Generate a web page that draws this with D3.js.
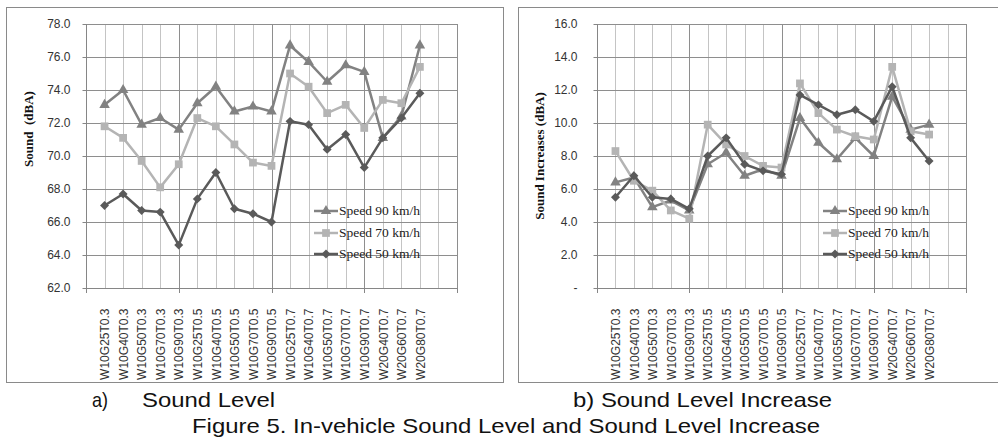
<!DOCTYPE html>
<html>
<head>
<meta charset="utf-8">
<script src="https://cdn.jsdelivr.net/npm/d3@7"></script>
<style>
  body { margin: 0; background: #fff; }
  svg { display: block; }
</style>
</head>
<body>
<div id="chart"></div>
<script>
/* DATA */
const categories = [
  "W10G25T0.3", "W10G40T0.3", "W10G50T0.3", "W10G70T0.3", "W10G90T0.3",
  "W10G25T0.5", "W10G40T0.5", "W10G50T0.5", "W10G70T0.5", "W10G90T0.5",
  "W10G25T0.7", "W10G40T0.7", "W10G50T0.7", "W10G70T0.7", "W10G90T0.7",
  "W20G40T0.7", "W20G60T0.7", "W20G80T0.7"
];
const seriesNames = ["Speed 90 km/h", "Speed 70 km/h", "Speed 50 km/h"];

// a) sound level (dBA)
const level90 = [73.1, 74.0, 71.9, 72.3, 71.6, 73.2, 74.2, 72.7, 73.0, 72.7, 76.7, 75.7, 74.5, 75.5, 75.1, 71.1, 72.4, 76.7];
const level70 = [71.8, 71.1, 69.7, 68.1, 69.5, 72.3, 71.8, 70.7, 69.6, 69.4, 75.0, 74.2, 72.6, 73.1, 71.7, 73.4, 73.2, 75.4];
const level50 = [67.0, 67.7, 66.7, 66.6, 64.6, 67.4, 69.0, 66.8, 66.5, 66.0, 72.1, 71.9, 70.4, 71.3, 69.3, 71.1, 72.3, 73.8];

// b) sound level increase (dBA)
const increase90 = [6.4, 6.7, 4.9, 5.3, 4.7, 7.5, 8.2, 6.8, 7.2, 6.8, 10.3, 8.8, 7.8, 9.1, 8.0, 11.6, 9.6, 9.9];
const increase70 = [8.3, 6.5, 5.9, 4.7, 4.2, 9.9, 8.7, 8.0, 7.4, 7.3, 12.4, 10.6, 9.6, 9.2, 9.0, 13.4, 9.5, 9.3];
const increase50 = [5.5, 6.8, 5.5, 5.4, 4.8, 8.0, 9.1, 7.5, 7.1, 6.9, 11.7, 11.1, 10.5, 10.8, 10.1, 12.2, 9.1, 7.7];

const levelTicks = [62, 64, 66, 68, 70, 72, 74, 76, 78];
const increaseTicks = [0, 2, 4, 6, 8, 10, 12, 14, 16];

/* STYLE */
const width = 998, height = 440;
const colors = ["#828282", "#b4b4b4", "#5a5a5a"];
const shapes = ["triangle", "square", "diamond"];
const sans = "'Liberation Sans', Arial, sans-serif";
const serif = "'Liberation Serif', 'Times New Roman', serif";

const svg = d3.select("#chart").append("svg")
  .attr("width", width)
  .attr("height", height);

svg.append("rect").attr("width", width).attr("height", height).attr("fill", "#fff");

function marker(g, shape, color) {
  if (shape === "triangle") {
    g.append("path").attr("d", d3.symbol(d3.symbolTriangle, 48)()).attr("fill", color);
  } else if (shape === "square") {
    g.append("path").attr("d", d3.symbol(d3.symbolSquare, 60)()).attr("fill", color);
  } else {
    g.append("path").attr("d", d3.symbol(d3.symbolSquare, 40)())
      .attr("transform", "rotate(45)").attr("fill", color);
  }
}

function drawPanel(p) {
  // panel frame
  svg.append("rect")
    .attr("x", p.frame[0] + 0.5).attr("y", p.frame[1] + 0.5)
    .attr("width", p.frame[2]).attr("height", p.frame[3])
    .attr("fill", "none").attr("stroke", "#8a8a8a");

  const x = d3.scaleLinear().domain([0, 20]).range([p.left, p.right]);
  const y = d3.scaleLinear().domain(p.domain).range([p.bottom, p.top]);
  const g = svg.append("g");

  // vertical grid (minor every 1, major every 5)
  g.selectAll(".vgrid")
    .data(d3.range(1, 21))
    .join("line")
    .attr("x1", d => Math.round(x(d)) + 0.5)
    .attr("x2", d => Math.round(x(d)) + 0.5)
    .attr("y1", p.top).attr("y2", p.bottom)
    .attr("stroke", d => d % 5 === 0 ? "#8e8e8e" : "#c4c4c4")
    .attr("stroke-width", 1);

  // horizontal grid
  g.selectAll(".hgrid")
    .data(p.ticks.slice(1))
    .join("line")
    .attr("x1", p.left).attr("x2", p.right)
    .attr("y1", d => Math.round(y(d)) + 0.5)
    .attr("y2", d => Math.round(y(d)) + 0.5)
    .attr("stroke", "#8e8e8e");

  // y axis
  const yAxis = d3.axisLeft(y).tickValues(p.ticks).tickSize(4).tickPadding(p.tickPad)
    .tickFormat(d => d === 0 ? "-" : d.toFixed(1));
  const ya = g.append("g")
    .attr("transform", `translate(${Math.round(p.left) + 0.5},0)`)
    .call(yAxis);
  ya.selectAll("text").attr("font-family", sans).attr("font-size", 12).attr("fill", "#333");
  ya.selectAll("line, path").attr("stroke", "#868686");
  ya.select(".domain").attr("d", `M0,${p.top}V${p.bottom}`);

  // x axis with rotated category labels
  const xAxis = d3.axisBottom(x).tickValues(d3.range(1, categories.length + 1))
    .tickSize(0).tickFormat(d => categories[d - 1]);
  const xa = g.append("g")
    .attr("transform", `translate(0,${Math.round(p.bottom) + 0.5})`)
    .call(xAxis);
  xa.select(".domain").attr("stroke", "#868686").attr("d", `M${p.left},0H${p.right}`);
  xa.selectAll("text")
    .attr("font-family", sans).attr("font-size", 12).attr("fill", "#333")
    .attr("text-anchor", "end")
    .attr("transform", "rotate(-90)")
    .attr("x", -20).attr("y", 0).attr("dy", "0.35em");

  // small ticks below x axis at major gridlines
  g.selectAll(".xtick")
    .data([0, 5, 10, 15, 20])
    .join("line")
    .attr("x1", d => Math.round(x(d)) + 0.5)
    .attr("x2", d => Math.round(x(d)) + 0.5)
    .attr("y1", p.bottom).attr("y2", p.bottom + 5)
    .attr("stroke", "#868686");

  // axis title
  svg.append("text")
    .attr("transform", `translate(${p.titleX},${p.titleY}) rotate(-90)`)
    .attr("text-anchor", "middle")
    .attr("dy", "0.35em")
    .attr("font-family", serif).attr("font-weight", "bold").attr("font-size", 13)
    .attr("fill", "#111")
    .style("white-space", "pre")
    .text(p.title);

  // lines + markers (drawn in series order: 90, 70, 50)
  const line = d3.line().x((d, i) => x(i + 1)).y(d => y(d));
  p.series.forEach((vals, s) => {
    g.append("path")
      .datum(vals)
      .attr("d", line)
      .attr("fill", "none")
      .attr("stroke", colors[s])
      .attr("stroke-width", 2.5)
      .attr("stroke-linejoin", "round");
    vals.forEach((v, i) => {
      const m = g.append("g").attr("transform", `translate(${x(i + 1)},${y(v)})`);
      marker(m, shapes[s], colors[s]);
    });
  });

  // legend
  const legendY = [211, 233, 254];
  seriesNames.forEach((name, s) => {
    const lg = svg.append("g").attr("transform", `translate(${p.legendX},${legendY[s]})`);
    lg.append("line").attr("x1", 0).attr("x2", 24).attr("y1", 0).attr("y2", 0)
      .attr("stroke", colors[s]).attr("stroke-width", 2.5);
    const m = lg.append("g").attr("transform", "translate(12,0)");
    marker(m, shapes[s], colors[s]);
    lg.append("text")
      .attr("x", 25).attr("y", 0).attr("dy", "0.33em")
      .attr("font-family", serif).attr("font-size", 13.5).attr("fill", "#222")
      .text(name);
  });
}

drawPanel({
  frame: [6, 7, 497, 375],
  left: 86, right: 457, top: 24, bottom: 288,
  domain: [62, 78], ticks: levelTicks, tickPad: 12,
  title: "Sound  (dBA)", titleX: 28, titleY: 129,
  series: [level90, level70, level50],
  legendX: 314
});

drawPanel({
  frame: [518, 7, 490, 375],
  left: 597, right: 966, top: 24, bottom: 288,
  domain: [0, 16], ticks: increaseTicks, tickPad: 16,
  title: "Sound Increases (dBA)", titleX: 539, titleY: 156,
  series: [increase90, increase70, increase50],
  legendX: 823
});

// captions
function caption(txt, x0, yb, len) {
  svg.append("text")
    .attr("x", x0).attr("y", yb)
    .attr("font-family", sans).attr("font-size", 21).attr("fill", "#111")
    .attr("textLength", len).attr("lengthAdjust", "spacingAndGlyphs")
    .text(txt);
}
caption("a)", 92, 407, 16);
caption("Sound Level", 142, 407, 133);
caption("b) Sound Level Increase", 573, 407, 259);
caption("Figure 5. In-vehicle Sound Level and Sound Level Increase", 192, 433, 628);
</script>
</body>
</html>
